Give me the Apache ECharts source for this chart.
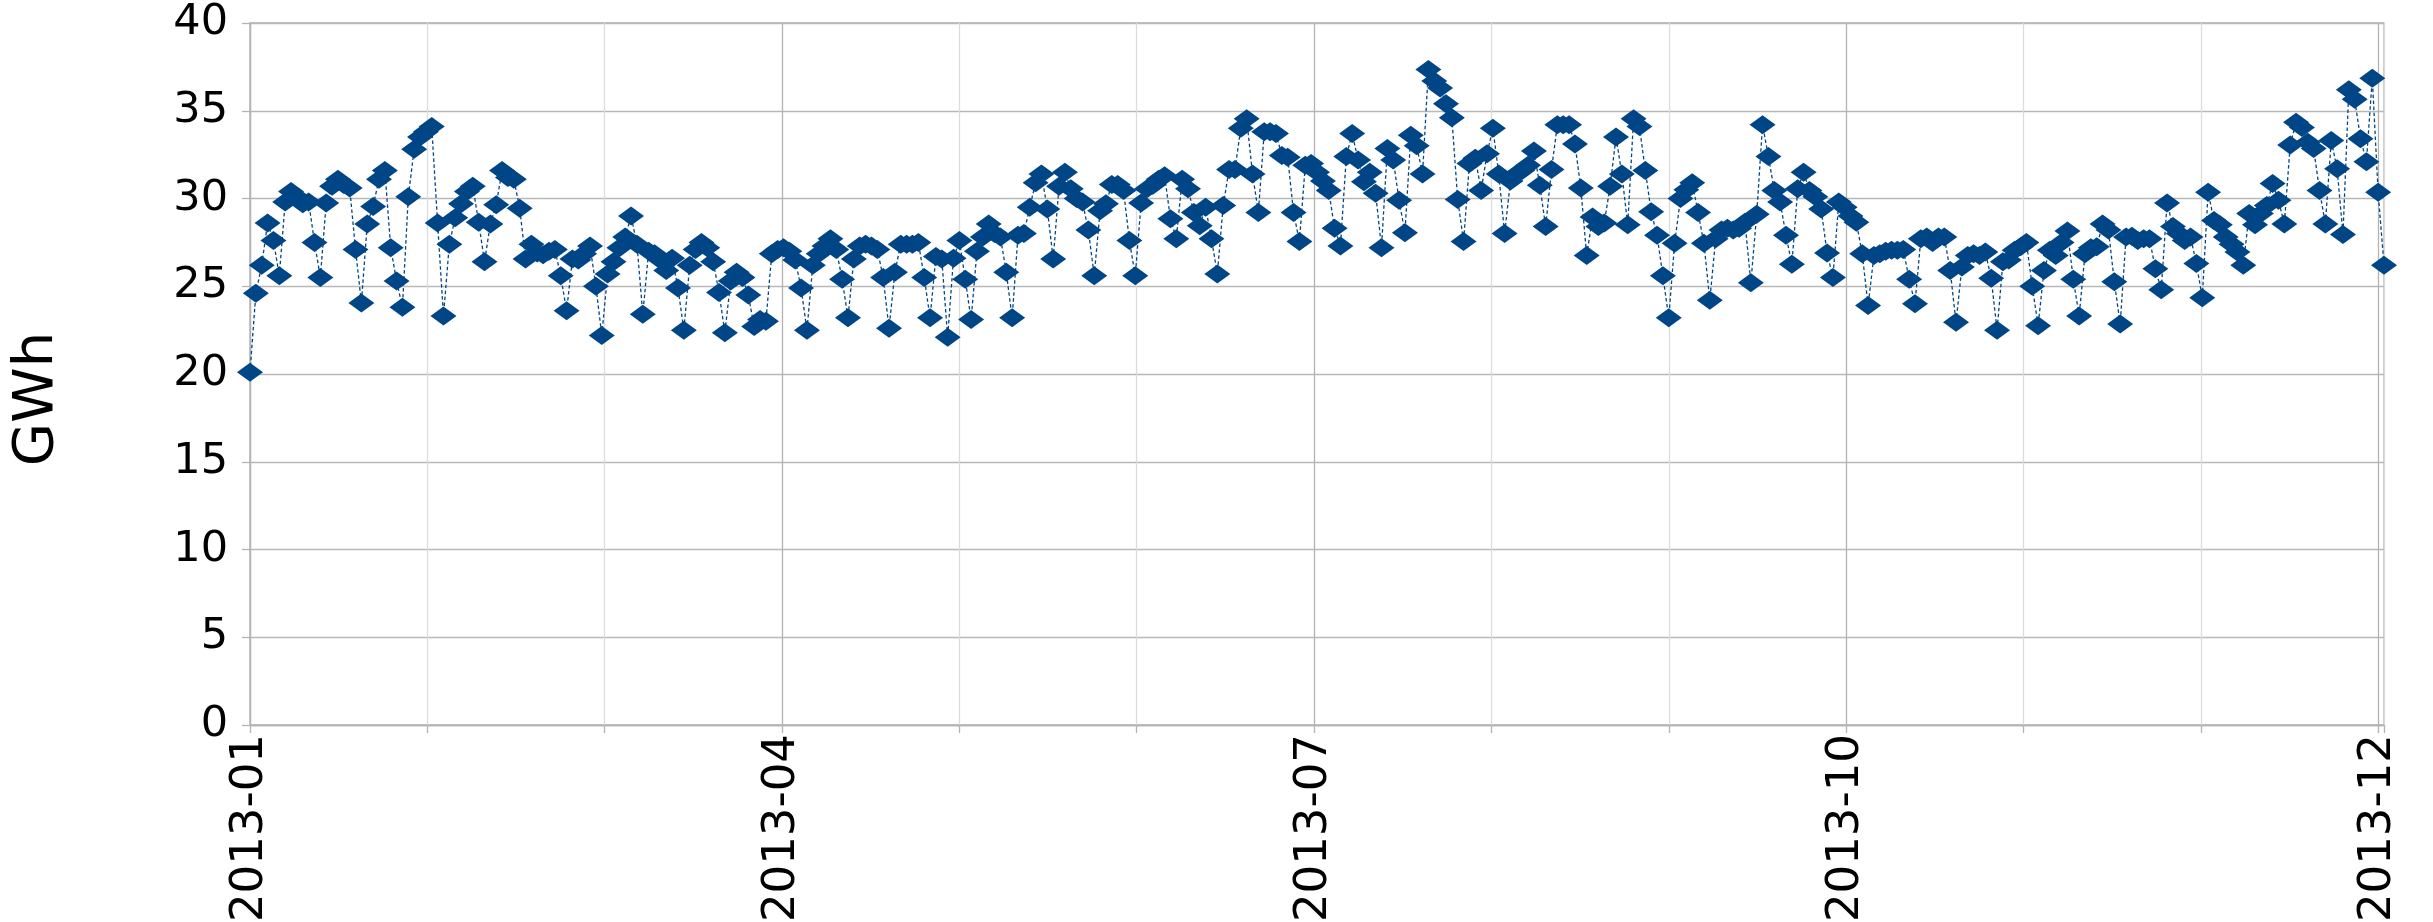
<!DOCTYPE html>
<html>
<head>
<meta charset="utf-8">
<script src="https://cdn.jsdelivr.net/npm/echarts@6/dist/echarts.min.js"></script>
<style>
  html, body { margin: 0; padding: 0; background: #ffffff; }
  #chart { width: 2433px; height: 922px; }
</style>
</head>
<body>
<div id="chart"></div>
<script>
// Daily values (GWh), 2013-01-01 .. 2013-12-31, one array per month
const janValues = [20.1, 24.6, 26.2, 28.6, 27.6, 25.6, 29.8, 30.4, 30.1, 29.7,
  29.8, 27.5, 25.5, 29.75, 30.7, 31.1, 30.8, 30.6, 27.1, 24.05,
  28.55, 29.55, 31.1, 31.6, 27.2, 25.3, 23.8, 30.1, 32.8, 33.5, 33.8];
const febValues = [34.1, 28.6, 23.3, 27.4, 28.9, 29.7, 30.4, 30.7, 28.65, 26.4,
  28.55, 29.65, 31.6, 31.2, 31.1, 29.45, 26.55, 27.4, 26.9, 26.8,
  27.0, 27.1, 25.6, 23.6, 26.55, 26.5, 26.85, 27.3];
const marValues = [25.0, 22.2, 25.7, 26.4, 27.2, 27.8, 29.0, 27.4, 23.4, 27.0,
  26.85, 26.5, 25.9, 26.6, 24.9, 22.5, 26.2, 27.1, 27.5, 27.2,
  26.4, 24.65, 22.35, 25.3, 25.8, 25.5, 24.5, 22.7, 23.1, 23.0, 26.85];
const aprValues = [27.1, 27.2, 27.0, 26.5, 24.9, 22.5, 26.2, 26.85, 27.3, 27.7,
  27.1, 25.4, 23.2, 26.55, 27.3, 27.4, 27.3, 27.1, 25.5, 22.6,
  25.8, 27.4, 27.4, 27.4, 27.5, 25.5, 23.2, 26.7, 26.55, 22.1];
const mayValues = [26.6, 27.6, 25.4, 23.1, 27.0, 27.8, 28.55, 28.0, 27.8, 25.8,
  23.2, 27.9, 28.0, 29.5, 30.9, 31.4, 29.4, 26.55, 30.7, 31.5,
  30.55, 30.0, 29.8, 28.2, 25.6, 29.3, 29.7, 30.8, 30.8, 30.45, 27.6];
const junValues = [25.6, 29.75, 30.55, 30.75, 31.1, 31.3, 28.85, 27.7, 31.1, 30.55,
  29.2, 28.45, 29.5, 27.7, 25.7, 29.6, 31.65, 31.65, 34.0, 34.55,
  31.4, 29.2, 33.8, 33.8, 33.7, 32.45, 32.35, 29.2, 27.55, 31.9];
const julValues = [32.0, 31.5, 31.0, 30.45, 28.3, 27.3, 32.4, 33.7, 32.2, 30.95,
  31.5, 30.3, 27.2, 32.85, 32.2, 29.9, 28.05, 33.6, 33.0, 31.4,
  37.35, 36.7, 36.3, 35.4, 34.6, 29.95, 27.55, 32.0, 32.3, 30.45, 32.55];
const augValues = [34.0, 31.4, 28.0, 31.0, 31.4, 31.6, 31.9, 32.7, 30.75, 28.4,
  31.65, 34.2, 34.2, 34.2, 33.1, 30.6, 26.75, 28.95, 28.4, 28.6,
  30.7, 33.5, 31.4, 28.5, 34.55, 34.1, 31.6, 29.25, 27.9, 25.6, 23.2];
const sepValues = [27.45, 30.0, 30.5, 30.9, 29.2, 27.45, 24.2, 27.7, 28.2, 28.3,
  28.2, 28.3, 28.65, 25.2, 29.1, 34.2, 32.4, 30.45, 29.8, 27.9,
  26.25, 30.55, 31.5, 30.45, 30.1, 29.4, 26.9, 25.5, 29.8, 29.5];
const octValues = [29.0, 28.65, 26.85, 23.9, 26.75, 26.85, 27.0, 27.05, 27.05, 27.1,
  25.4, 24.0, 27.7, 27.8, 27.5, 27.8, 27.8, 25.9, 22.95, 26.1,
  26.75, 26.85, 26.75, 26.95, 25.45, 22.5, 26.4, 26.5, 27.05, 27.25, 27.5];
const novValues = [25.0, 22.75, 25.9, 27.05, 26.75, 27.5, 28.15, 25.4, 23.3, 26.85,
  27.2, 27.25, 28.55, 28.2, 25.25, 22.85, 27.8, 27.85, 27.6, 27.7,
  27.7, 26.0, 24.8, 29.75, 28.4, 28.0, 27.6, 27.8, 26.3, 24.35];
const decValues = [30.35, 28.75, 28.5, 27.8, 27.4, 26.95, 26.2, 29.15, 28.5, 29.15,
  29.6, 30.85, 29.9, 28.55, 33.05, 34.35, 34.05, 33.2, 32.85, 30.45,
  28.55, 33.3, 31.7, 27.95, 36.2, 35.65, 33.4, 32.1, 36.85, 30.35, 26.2];

// x-axis tick labels (every third grid line)
const tickLabels = ['2013-01', '2013-04', '2013-07', '2013-10', '2013-12'];
const yAxisTitle = 'GWh';

const dailyValues = [].concat(janValues, febValues, marValues, aprValues, mayValues,
  junValues, julValues, augValues, sepValues, octValues, novValues, decValues);
const seriesData = dailyValues.map((v, i) => [i, v]);

const lastDay = dailyValues.length - 1;        // 364
const gridStep = (lastDay - 1) / 12;           // 30.25 days per grid line
const majorStep = gridStep * 3;

const FONT = 'DejaVu Sans';
const chart = echarts.init(document.getElementById('chart'), null, { renderer: 'canvas' });

chart.setOption({
  animation: false,
  backgroundColor: '#ffffff',
  grid: {
    left: 250, right: 49, top: 23, bottom: 197,
    outerBoundsMode: 'none',
    containLabel: false,
    show: true, borderColor: '#b3b3b3', borderWidth: 1.3, backgroundColor: 'transparent'
  },
  xAxis: {
    type: 'value',
    min: 0,
    max: lastDay,
    interval: gridStep,
    axisLine: { show: true, lineStyle: { color: '#b3b3b3', width: 1.3 } },
    axisTick: { show: true, length: 8, lineStyle: { color: '#b3b3b3', width: 1.3 } },
    splitLine: { show: true, lineStyle: { color: ['#b3b3b3', '#dcdcdc', '#dcdcdc'], width: 1.3 } },
    axisLabel: {
      rotate: 90,
      margin: 9,
      fontFamily: FONT,
      fontSize: 45,
      color: '#000000',
      showMaxLabel: true,
      showMinLabel: true,
      formatter: function (v) {
        const k = v / majorStep;
        const r = Math.round(k);
        if (Math.abs(k - r) < 1e-6 && r < tickLabels.length) return tickLabels[r];
        return '';
      }
    }
  },
  yAxis: {
    type: 'value',
    min: 0,
    max: 40,
    interval: 5,
    name: yAxisTitle,
    nameLocation: 'middle',
    nameRotate: 90,
    nameGap: 185,
    nameTextStyle: { fontFamily: FONT, fontSize: 56, color: '#000000', padding: [0, 50, 0, 0] },
    axisLine: { show: true, lineStyle: { color: '#b3b3b3', width: 1.3 } },
    axisTick: { show: true, length: 8, lineStyle: { color: '#b3b3b3', width: 1.3 } },
    splitLine: { show: true, lineStyle: { color: '#b8b8b8', width: 1.3 } },
    axisLabel: {
      margin: 22,
      fontFamily: FONT,
      fontSize: 43,
      color: '#000000'
    }
  },
  series: [{
    type: 'line',
    data: seriesData,
    symbol: 'diamond',
    symbolSize: [26, 19],
    showSymbol: true,
    showAllSymbol: true,
    clip: false,
    itemStyle: { color: '#004586' },
    lineStyle: { color: '#004586', width: 1.3, type: [3.5, 2.5] },
    emphasis: { disabled: true }
  }]
});
</script>
</body>
</html>
